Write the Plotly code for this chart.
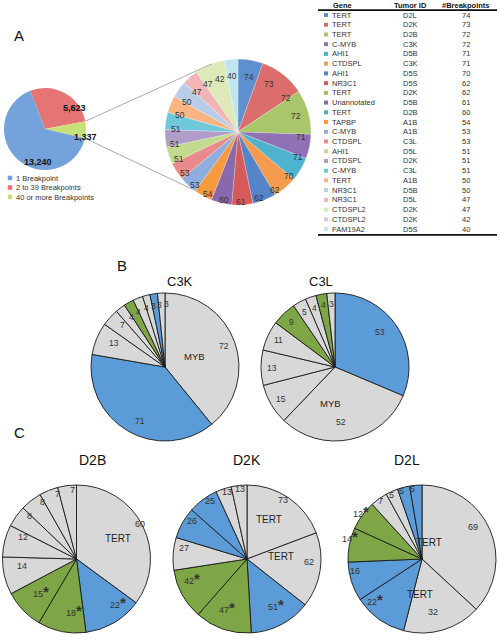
import math
import plotly.graph_objects as go

FONT = "Liberation Sans, Arial, sans-serif"
W, H = 500, 640

# ---------------- DATA ----------------
# Panel A overview pie (clockwise order as drawn)
overview_labels = ["2 to 39 Breakpoints", "40 or more Breakpoints", "1 Breakpoint"]
overview_values = [5623, 1337, 13240]
legend_labels = ["1 Breakpoint", "2 to 39 Breakpoints", "40 or more Breakpoints"]

# Panel A table / detail pie
genes = ["TERT", "TERT", "TERT", "C-MYB", "AHI1", "CTDSPL", "AHI1", "NR3C1", "TERT",
         "Unannotated", "TERT", "TAPBP", "C-MYB", "CTDSPL", "AHI1", "CTDSPL", "C-MYB",
         "TERT", "NR3C1", "NR3C1", "CTDSPL2", "CTDSPL2", "FAM19A2"]
tumor_ids = ["D2L", "D2K", "D2B", "C3K", "D5B", "C3K", "D5S", "D5S", "D2K", "D5B", "D2B",
             "A1B", "A1B", "C3L", "D5L", "D2K", "C3L", "A1B", "D5B", "D5L", "D2K", "D2K", "D5S"]
breakpoints = [74, 73, 72, 72, 71, 71, 70, 62, 62, 61, 60, 54, 53, 53, 51, 51, 51, 50, 50,
               47, 47, 42, 40]
table_header = ["Gene", "Tumor ID", "#Breakpoints"]

# Panels B and C (clockwise from 12 o'clock)
pie_names = ["C3K", "C3L", "D2B", "D2K", "D2L"]
c3k_values = [72, 71, 13, 7, 4, 4, 4, 3, 3, 3]
c3k_cats = ["grey", "blue", "grey", "grey", "grey", "green", "grey", "grey", "blue", "grey"]
c3k_genes = ["MYB", "", "", "", "", "", "", "", "", ""]
c3k_star = [0, 0, 0, 0, 0, 0, 0, 0, 0, 0]

c3l_values = [53, 52, 15, 13, 11, 9, 5, 4, 4, 3]
c3l_cats = ["blue", "grey", "grey", "grey", "grey", "green", "grey", "grey", "green", "grey"]
c3l_genes = ["", "MYB", "", "", "", "", "", "", "", ""]
c3l_star = [0, 0, 0, 0, 0, 0, 0, 0, 0, 0]

d2b_values = [60, 22, 18, 15, 14, 12, 8, 8, 7, 7]
d2b_cats = ["grey", "blue", "green", "green", "grey", "grey", "grey", "grey", "grey", "grey"]
d2b_genes = ["TERT", "", "", "", "", "", "", "", "", ""]
d2b_star = [0, 1, 1, 1, 0, 0, 0, 0, 0, 0]

d2k_values = [73, 62, 51, 47, 42, 27, 26, 25, 13, 13]
d2k_cats = ["grey", "grey", "blue", "green", "green", "grey", "blue", "blue", "grey", "grey"]
d2k_genes = ["TERT", "TERT", "", "", "", "", "", "", "", ""]
d2k_star = [0, 0, 1, 1, 1, 0, 0, 0, 0, 0]

d2l_values = [69, 32, 22, 16, 14, 12, 7, 5, 5, 5]
d2l_cats = ["grey", "grey", "blue", "blue", "green", "green", "grey", "grey", "blue", "blue"]
d2l_genes = ["TERT", "TERT", "", "", "", "", "", "", "", ""]
d2l_star = [0, 0, 1, 0, 1, 1, 0, 0, 0, 0]

# ---------------- STYLE ----------------
overview_colors = {"1 Breakpoint": "#74A3DC", "2 to 39 Breakpoints": "#E57575",
                   "40 or more Breakpoints": "#C9E07A"}
detail_colors = ["#5E8FCF", "#DB6E6C", "#A8C66A", "#8F72B3", "#4DB3CE", "#F69A4E",
                 "#5585C8", "#D65B58", "#9EC25A", "#8A68AD", "#45AFCC", "#F59A3F",
                 "#8EAEDF", "#E88B8A", "#C2DA8E", "#B09DCA", "#70C8DD", "#F8B583",
                 "#B9CDEB", "#F2B5B5", "#DDEAB8", "#D3C7E3", "#BEE5F0"]
cat_colors = {"grey": "#D8D8D8", "blue": "#5B9BD8", "green": "#7EA646"}

small_geom = (45, 129, 41)      # cx, cy, r (px)
big_geom = (238, 132, 73)
small_rotation = -21
small_label_r = [0.78, 0.66, 0.85]
link_angles_big = [339, 218]

pie_geom = {"C3K": (165, 367, 74), "C3L": (335, 367, 74),
            "D2B": (76.5, 559, 74), "D2K": (247, 559, 74), "D2L": (422, 559, 74)}
gene_r = {"C3K": [0.43], "C3L": [0.5], "D2B": [0.4], "D2K": [0.52, 0.46], "D2L": [0.32, 0.6]}
num_r = 0.85
letter_pos = [(12, 25), (115, 265), (12, 443)]


def dom(cx, cy, r):
    return dict(x=[(cx - r) / W, (cx + r) / W], y=[1 - (cy + r) / H, 1 - (cy - r) / H])


def pt(cx, cy, r, frac, ang):
    a = math.radians(ang)
    x = cx + frac * r * math.sin(a)
    y = cy - frac * r * math.cos(a)
    return x / W, 1 - y / H


def mids(values, rot=0.0):
    tot = float(sum(values))
    out, a, edges = [], rot, [rot]
    for v in values:
        s = v / tot * 360
        out.append(a + s / 2)
        a += s
        edges.append(a)
    return out, edges


fig = go.Figure()
ann = []
shapes = []

# ---- overview pie
cx, cy, r = small_geom
fig.add_trace(go.Pie(values=overview_values, labels=overview_labels, sort=False,
                     direction="clockwise", rotation=small_rotation,
                     marker=dict(colors=[overview_colors[l] for l in overview_labels],
                                 line=dict(width=0)),
                     textinfo="none", hoverinfo="skip", showlegend=False,
                     domain=dom(cx, cy, r)))
m, edges = mids(overview_values, small_rotation)
for v, a, f in zip(overview_values, m, small_label_r):
    x, y = pt(cx, cy, r, f, a)
    ann.append(dict(x=x, y=y, xref="paper", yref="paper", text="<b>{:,}</b>".format(v),
                    showarrow=False, font=dict(size=9, color="#111", family=FONT)))

# connecting lines from the "40 or more" slice to the detail pie
bcx, bcy, br = big_geom
for e, ab in zip([edges[1], edges[2]], link_angles_big):
    x0, y0 = pt(cx, cy, r, 1.0, e)
    x1, y1 = pt(bcx, bcy, br, 1.0, ab)
    shapes.append(dict(type="line", xref="paper", yref="paper", x0=x0, y0=y0, x1=x1, y1=y1,
                       line=dict(color="#AAAAAA", width=1)))

# ---- detail pie
fig.add_trace(go.Pie(values=breakpoints, labels=[f"{g} {t}" for g, t in zip(genes, tumor_ids)],
                     sort=False, direction="clockwise", rotation=0,
                     marker=dict(colors=detail_colors, line=dict(width=0.4, color="rgba(255,255,255,0.6)")),
                     textinfo="none", hoverinfo="skip", showlegend=False,
                     domain=dom(bcx, bcy, br)))
m, _ = mids(breakpoints)
for v, a in zip(breakpoints, m):
    x, y = pt(bcx, bcy, br, 0.86, a)
    ann.append(dict(x=x, y=y, xref="paper", yref="paper", text=str(v), showarrow=False,
                    font=dict(size=8.5, color="#333", family=FONT)))

# ---- legend for overview (axis x2/y2, rows in item units)
fig.add_trace(go.Scatter(x=[10] * 3, y=list(range(3)), mode="markers", xaxis="x2", yaxis="y2",
                         marker=dict(symbol="square", size=4.5,
                                     color=[overview_colors[l] for l in legend_labels]),
                         hoverinfo="skip", showlegend=False))
for i, l in enumerate(legend_labels):
    ann.append(dict(x=14, y=i, xref="x2", yref="y2", text=l, showarrow=False, xanchor="left",
                    font=dict(size=7.5, color="#333", family=FONT)))

# ---- table (axis x/y, rows in index units)
fig.add_trace(go.Scatter(x=[8] * len(genes), y=list(range(len(genes))), mode="markers",
                         marker=dict(symbol="square", size=4, color=detail_colors),
                         hoverinfo="skip", showlegend=False))
for i, (g, t, b) in enumerate(zip(genes, tumor_ids, breakpoints)):
    f = dict(size=7.5, color="#333", family=FONT)
    ann.append(dict(x=12, y=i, xref="x", yref="y", text=g, showarrow=False, xanchor="left", font=f))
    ann.append(dict(x=92, y=i, xref="x", yref="y", text=t, showarrow=False, font=f))
    ann.append(dict(x=148, y=i, xref="x", yref="y", text=str(b), showarrow=False, font=f))
hf = dict(size=7.5, color="#111", family=FONT)
ann.append(dict(x=13, y=-1, xref="x", yref="y", text="<b>%s</b>" % table_header[0], showarrow=False, xanchor="left", font=hf))
ann.append(dict(x=92, y=-1, xref="x", yref="y", text="<b>%s</b>" % table_header[1], showarrow=False, font=hf))
ann.append(dict(x=148, y=-1, xref="x", yref="y", text="<b>%s</b>" % table_header[2], showarrow=False, font=hf))
shapes.append(dict(type="line", xref="x", yref="y", x0=0, x1=179, y0=-0.5, y1=-0.5,
                   line=dict(color="#111", width=1.6)))
shapes.append(dict(type="line", xref="x", yref="y", x0=0, x1=179, y0=len(genes) - 0.4,
                   y1=len(genes) - 0.4, line=dict(color="#111", width=1.6)))

# ---- panels B and C
all_pies = [(c3k_values, c3k_cats, c3k_genes, c3k_star), (c3l_values, c3l_cats, c3l_genes, c3l_star),
            (d2b_values, d2b_cats, d2b_genes, d2b_star), (d2k_values, d2k_cats, d2k_genes, d2k_star),
            (d2l_values, d2l_cats, d2l_genes, d2l_star)]
for name, (vals, cats, gns, stars) in zip(pie_names, all_pies):
    pcx, pcy, pr = pie_geom[name]
    isC = name.startswith("D")
    fig.add_trace(go.Pie(values=vals, labels=[f"{name}-{i}" for i in range(len(vals))], sort=False,
                         direction="clockwise", rotation=0,
                         marker=dict(colors=[cat_colors[c] for c in cats],
                                     line=dict(color="#1a1a1a", width=0.9)),
                         textinfo="none", hoverinfo="skip", showlegend=False,
                         domain=dom(pcx, pcy, pr)))
    m, _ = mids(vals)
    nsize = 9 if isC else 8.5
    k = 0
    for v, a, g, s in zip(vals, m, gns, stars):
        x, y = pt(pcx, pcy, pr, num_r, a)
        txt = str(v)
        if s:
            txt += "<span style='font-size:15px'><b>*</b></span>"
        ann.append(dict(x=x, y=y, xref="paper", yref="paper", text=txt, showarrow=False,
                        font=dict(size=nsize, color="#333", family=FONT)))
        if g:
            x, y = pt(pcx, pcy, pr, gene_r[name][k], a)
            k += 1
            ann.append(dict(x=x, y=y, xref="paper", yref="paper", text=g, showarrow=False,
                            font=dict(size=10 if isC else 9.5, color="#222", family=FONT)))
    toff = 15 if isC else 12
    ann.append(dict(x=pcx / W, y=1 - (pcy - pr - toff) / H, xref="paper", yref="paper", text=name,
                    showarrow=False, font=dict(size=14 if isC else 13, color="#111", family=FONT)))

# panel letters
for letter, (lx, ly) in zip(["A", "B", "C"], letter_pos):
    ann.append(dict(x=lx / W, y=1 - ly / H, xref="paper", yref="paper", text=letter,
                    showarrow=False, font=dict(size=15, color="#111", family=FONT)))

row0, rstep = 15.0, 9.73
fig.update_layout(
    width=W, height=H, margin=dict(l=0, r=0, t=0, b=0),
    paper_bgcolor="white", plot_bgcolor="rgba(0,0,0,0)",
    font=dict(family=FONT),
    xaxis=dict(domain=[318 / W, 498 / W], range=[0, 180], visible=False, fixedrange=True),
    yaxis=dict(domain=[1 - 240 / H, 1], range=[(240 - row0) / rstep, (0 - row0) / rstep],
               visible=False, fixedrange=True),
    xaxis2=dict(domain=[0, 150 / W], range=[0, 150], visible=False, anchor="y2", fixedrange=True),
    yaxis2=dict(domain=[1 - 205 / H, 1 - 170 / H], range=[(205 - 178) / 9.5, (170 - 178) / 9.5],
                visible=False, anchor="x2", fixedrange=True),
    annotations=ann, shapes=shapes, showlegend=False,
)

fig.write_html("out.html", config={"displayModeBar": False},
               post_script="document.body.style.margin='0';")
